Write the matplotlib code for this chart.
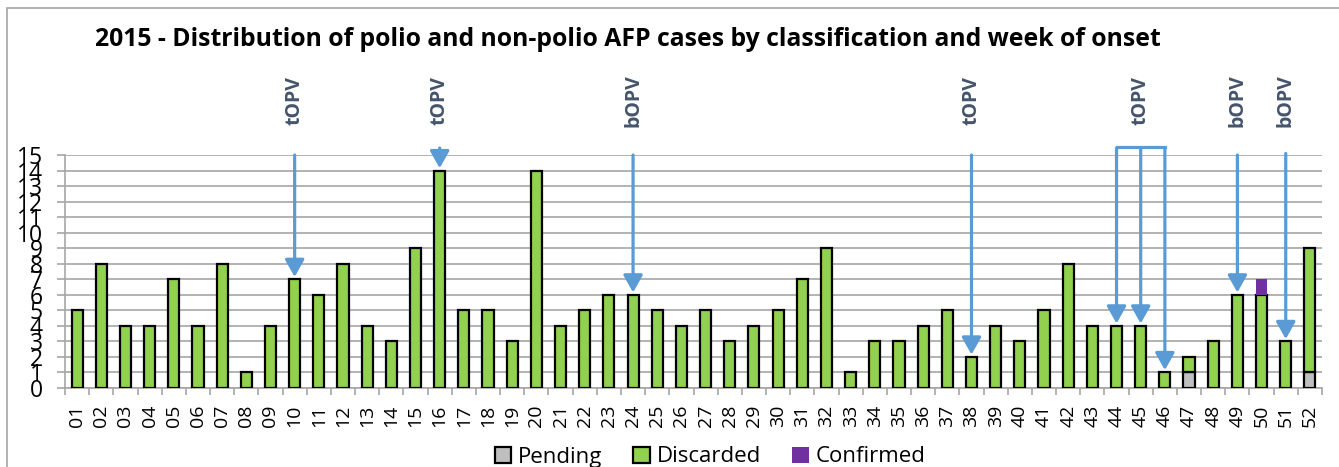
import matplotlib
matplotlib.use("Agg")
import matplotlib.pyplot as plt
from matplotlib.patches import Rectangle, Patch
import numpy as np

plt.rcParams['font.family'] = ['Open Sans', 'DejaVu Sans']

# ---- data ----
weeks = [f"{i:02d}" for i in range(1, 53)]
pending = [0]*46 + [1, 0, 0, 0, 0, 1]
discarded = [5, 8, 4, 4, 7, 4, 8, 1, 4, 7, 6, 8, 4, 3, 9, 14, 5, 5, 3, 14,
             4, 5, 6, 6, 5, 4, 5, 3, 4, 5, 7, 9, 1, 3, 3, 4, 5, 2, 4, 3,
             5, 8, 4, 4, 4, 1, 1, 3, 6, 6, 3, 8]
confirmed = [0]*49 + [1, 0, 0]

arrow_weeks = ["10", "16", "24", "38", "44", "45", "46", "49", "51"]
label_weeks = ["10", "16", "24", "38", "45", "49", "51"]
label_texts = ["tOPV", "tOPV", "bOPV", "tOPV", "tOPV", "bOPV", "bOPV"]
bracket_weeks = ["44", "46"]

title = "2015 - Distribution of polio and non-polio AFP cases by classification and week of onset"

# ---- styles ----
c_pend = "#BFBFBF"
c_disc = "#92D050"
c_conf = "#7030A0"
c_arrow = "#5B9BD5"
c_label = "#44546A"

W, H = 1339, 467
fig = plt.figure(figsize=(W/100, H/100), dpi=100)
ax = fig.add_axes([65/W, 1-388/H, (1322-65)/W, (388-155)/H])

x = np.arange(len(weeks))
pend = np.array(pending)
disc = np.array(discarded)
conf = np.array(confirmed)
bw = 0.46
ax.bar(x, pend, bw, color=c_pend, edgecolor="black", linewidth=1.6, zorder=3)
ax.bar(x, disc, bw, bottom=pend, color=c_disc, edgecolor="black", linewidth=1.6, zorder=3)
ax.bar(x, conf, bw, bottom=pend+disc, color=c_conf, edgecolor="none", linewidth=0, zorder=3)
total = pend + disc + conf

ax.set_xlim(-0.5, len(weeks)-0.5)
ax.set_ylim(0, 15)
ax.set_yticks(range(0, 16))
ax.yaxis.grid(True, color="#A6A6A6", linewidth=1.2, zorder=0)
ax.set_axisbelow(True)
for s in ["top", "right"]:
    ax.spines[s].set_visible(False)
ax.spines["left"].set_color("#A6A6A6")
ax.spines["bottom"].set_color("#A6A6A6")
ax.spines["left"].set_linewidth(1.2)
ax.spines["bottom"].set_linewidth(1.2)

ax.set_xticks(x)
ax.set_xticklabels(weeks, rotation=90, fontsize=14)
ax.set_xticks(np.arange(-0.5, len(weeks)), minor=True)
ax.tick_params(axis="x", which="major", length=0, pad=12)
ax.tick_params(axis="x", which="minor", length=5, color="#A6A6A6", width=1.2)
ax.tick_params(axis="y", which="major", length=6, color="#A6A6A6", width=1.2,
               labelsize=16.5, pad=10)

idx = {w: i for i, w in enumerate(weeks)}

# arrows
arrow_start = {"16": 15.45, "44": 15.45, "45": 15.35, "46": 15.45, "51": 15.1}
for w in arrow_weeks:
    i = idx[w]
    y0 = arrow_start.get(w, 15.0)
    tip = total[i] + 0.15
    ax.annotate("", xy=(i, tip), xytext=(i, y0),
                arrowprops=dict(arrowstyle="-|>,head_length=0.8,head_width=0.45",
                                color=c_arrow, lw=2.3, shrinkA=0, shrinkB=0,
                                mutation_scale=13),
                annotation_clip=False, zorder=5)
b0, b1 = idx[bracket_weeks[0]], idx[bracket_weeks[1]]
ax.plot([b0, b1], [15.5, 15.5], color=c_arrow, lw=2.3, clip_on=False, zorder=5)

for w, t in zip(label_weeks, label_texts):
    ax.text(idx[w], 18.5, t, rotation=90, ha="center", va="center",
            fontsize=14, fontweight="bold", color=c_label, clip_on=False)

fig.text(628/W, 1-40/H, title, ha="center", va="center", fontsize=17.8,
         fontweight="bold", color="black")

handles = [Patch(facecolor=c_pend, edgecolor="black", linewidth=1.6, label="Pending"),
           Patch(facecolor=c_disc, edgecolor="black", linewidth=1.6, label="Discarded"),
           Patch(facecolor=c_conf, edgecolor="none", label="Confirmed")]
fig.legend(handles=handles, loc="center", bbox_to_anchor=(710/W, 1-457/H), ncol=3,
           frameon=False, fontsize=16, handlelength=0.75, handleheight=0.75,
           handletextpad=0.3, columnspacing=1.4)

fig.add_artist(Rectangle((7/W, -0.2), 1.2, (1-8/H)+0.2, transform=fig.transFigure,
                         fill=False, edgecolor="#A6A6A6", linewidth=1.2))

fig.savefig("out.png", dpi=100)
